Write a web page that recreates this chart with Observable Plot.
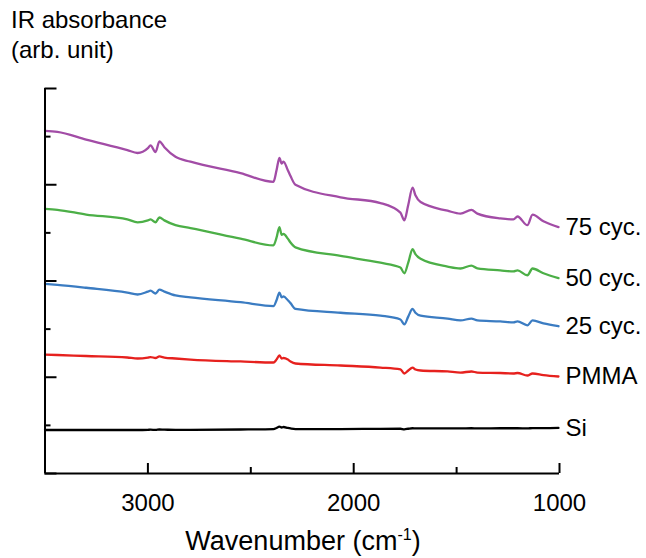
<!DOCTYPE html>
<html><head><meta charset="utf-8">
<script src="https://cdn.jsdelivr.net/npm/d3@7"></script>
<script src="https://cdn.jsdelivr.net/npm/@observablehq/plot@0.6"></script>
<style>
body{margin:0;background:#fff;font-family:"Liberation Sans",Arial,sans-serif;}
#wrap{position:relative;width:646px;height:558px;}
#title{position:absolute;left:11px;top:5px;font-size:24px;line-height:30px;color:#000;}
#xlabel{position:absolute;left:0;width:606px;text-align:center;top:526px;font-size:27px;color:#000;}
#xlabel sup{font-size:16px;}
</style></head><body>
<div id="wrap"><div id="chart"></div><div id="title">IR absorbance<br>(arb. unit)</div><div id="xlabel">Wavenumber (cm<sup>-1</sup>)</div></div>
<script>
const wavenumber = [3500,3440,3300,3100,3050,3000,2987,2963,2944,2920,2866,2793,2550,2390,2375,2361,2350,2341,2320,2307,2283,2064,1870,1773,1754,1735,1714,1700,1675,1544,1481,1428,1399,1288,1224,1204,1156,1131,1078,1005];
const cyc75 = [3.56,3.55,3.47,3.36,3.33,3.38,3.41,3.34,3.45,3.39,3.29,3.24,3.12,3.03,3.15,3.28,3.22,3.24,3.15,3.09,3.00,2.87,2.81,2.71,2.63,2.79,2.97,2.89,2.82,2.73,2.70,2.74,2.70,2.65,2.64,2.67,2.58,2.69,2.62,2.56];
const cyc50 = [2.75,2.74,2.69,2.64,2.61,2.63,2.64,2.61,2.66,2.63,2.58,2.55,2.44,2.37,2.45,2.56,2.48,2.49,2.44,2.40,2.35,2.26,2.19,2.14,2.08,2.19,2.33,2.28,2.23,2.15,2.13,2.16,2.13,2.11,2.10,2.11,2.06,2.13,2.08,2.03];
const cyc25 = [1.97,1.96,1.93,1.88,1.86,1.89,1.90,1.87,1.91,1.89,1.85,1.83,1.78,1.74,1.80,1.88,1.83,1.84,1.80,1.77,1.71,1.67,1.64,1.60,1.55,1.63,1.71,1.67,1.64,1.61,1.59,1.61,1.59,1.58,1.57,1.58,1.54,1.59,1.56,1.53];
const pmma = [1.236,1.231,1.221,1.205,1.195,1.205,1.210,1.200,1.216,1.205,1.195,1.184,1.164,1.153,1.184,1.226,1.195,1.200,1.184,1.164,1.143,1.122,1.101,1.081,1.039,1.070,1.101,1.081,1.070,1.060,1.049,1.060,1.049,1.044,1.039,1.044,1.018,1.039,1.023,1.008];
const si = [0.452,0.452,0.452,0.452,0.452,0.454,0.455,0.453,0.457,0.455,0.454,0.454,0.457,0.462,0.473,0.488,0.478,0.483,0.473,0.468,0.462,0.462,0.464,0.465,0.459,0.465,0.470,0.468,0.468,0.468,0.468,0.470,0.468,0.470,0.470,0.470,0.468,0.472,0.471,0.473];
const seriesNames = ["Si","PMMA","25 cyc.","50 cyc.","75 cyc."];
const seriesValues = [si, pmma, cyc25, cyc50, cyc75];
const seriesColors = ["#000000","#e6211e","#3b7cc2","#4caf47","#a24ca6"];
const xTicksMajor = [3000,2000,1000];
const xTicksMinor = [2500,1500];
const yTicksMajor = [0,1,2,3,4];
const yTicksMinor = [0.5,1.5,2.5,3.5];

const rows = seriesNames.flatMap((name,i)=>wavenumber.map((w,j)=>({series:name, wn:w, a:seriesValues[i][j]})));
const labels = seriesNames.map((name,i)=>({series:name, wn:wavenumber[wavenumber.length-1], a:seriesValues[i][seriesValues[i].length-1]}));

const chart = Plot.plot({
  width:646, height:558,
  marginLeft:44.5, marginRight:87, marginTop:88, marginBottom:85,
  style:{fontFamily:"Liberation Sans, Arial, sans-serif", color:"#000", background:"#fff"},
  x:{domain:[3500,1000], label:null},
  y:{domain:[0,4], label:null},
  color:{domain:seriesNames, range:seriesColors},
  marks:[
    Plot.line(rows,{x:"wn", y:"a", z:"series", stroke:"series", strokeWidth:2.3, curve:"monotone-x"}),
    Plot.text(labels,{x:"wn", y:"a", text:"series", dx:7, textAnchor:"start", fontSize:24, fill:"#000"}),
    Plot.axisX(xTicksMajor,{tickSize:-10, tickPadding:30, fontSize:24, strokeWidth:2, label:null, tickFormat:d=>String(d)}),
    Plot.axisX(xTicksMinor,{tickSize:-6, text:null, strokeWidth:2, label:null}),
    Plot.axisY(yTicksMajor,{tickSize:-12, text:null, strokeWidth:2, label:null}),
    Plot.axisY(yTicksMinor,{tickSize:-6, text:null, strokeWidth:2, label:null}),
    Plot.ruleX([3500],{strokeWidth:2}),
    Plot.ruleY([0],{strokeWidth:2})
  ]
});
document.getElementById("chart").appendChild(chart);
</script>
</body></html>
